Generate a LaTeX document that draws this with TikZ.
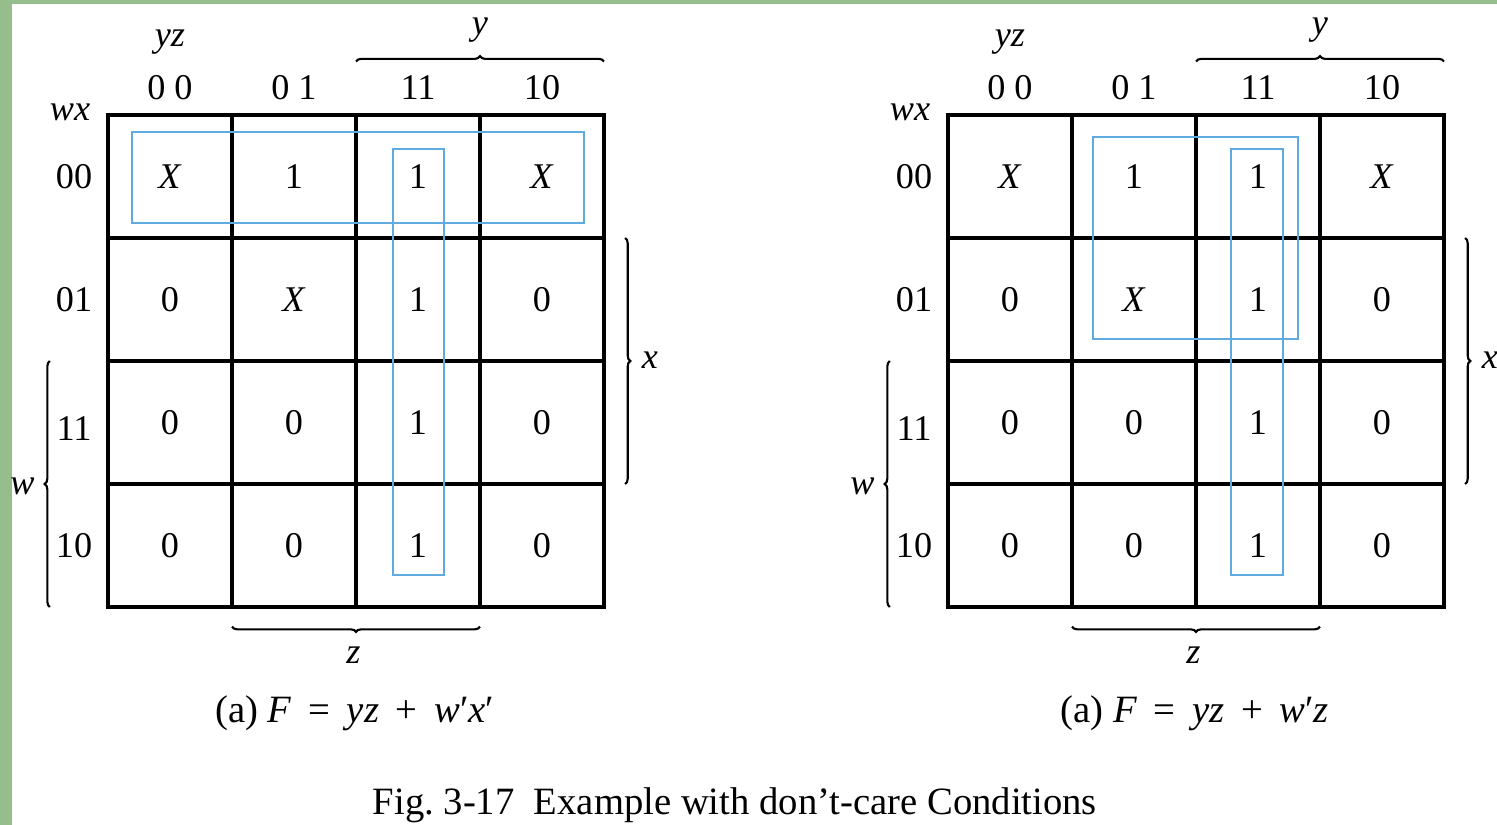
\documentclass[tikz,border=0pt]{standalone}
\usepackage{fontspec}
\setmainfont{Liberation Serif}
\usetikzlibrary{decorations.pathreplacing}

\definecolor{loopblue}{RGB}{95,170,222}
\definecolor{bggreen}{RGB}{150,190,140}

\newcommand\wsp{\hspace{2pt}}
\tikzset{
  kmap/.style={line width=0.9pt},
  kbrace/.style={decorate, decoration={brace, amplitude=1.5pt}, line width=0.6pt},
  kloop/.style={draw=loopblue, line width=0.55pt},
  kcap/.style={font=\fontsize{11}{13}\selectfont},
}

\begin{document}
\begin{tikzpicture}[x={(0cm,-1.23cm)},y={(1.24cm,0cm)},font=\fontsize{10.3}{12}\selectfont]
\useasboundingbox (-1.70cm,1.765cm) rectangle (13.27cm,-6.485cm);
\fill[bggreen] (-1.70cm,1.765cm) rectangle (13.27cm,-6.485cm);
\fill[white] (-1.58cm,1.725cm) rectangle (13.27cm,-6.485cm);

% both maps hold the same entries
\foreach \m/\sh in {L/0cm,R/8.4cm}{
\begin{scope}[xshift=\sh]
  \foreach \vals [count=\r from 0] in {{\textit{X},1,1,\textit{X}},{0,\textit{X},1,0},{0,0,1,0},{0,0,1,0}}
    \foreach \v [count=\c from 0] in \vals
      \node (\m-\r\c) at (\r,\c) {\v};
  \draw[kmap] (-0.5,-0.5) rectangle (3.5,3.5);
  \foreach \k in {1,2,3}{
    \draw[kmap] (\k-0.5,-0.5) -- (\k-0.5,3.5);
    \draw[kmap] (-0.5,\k-0.5) -- (3.5,\k-0.5);
  }
  \node (\m-yz) at (-1.09,0) {\textit{yz}};
  \node (\m-wx) at (-0.524,-0.806) {\textit{wx}};
  \foreach \lab [count=\c from 0] in {0\hspace{0.25em}0,0\hspace{0.25em}1,11,10}
    \node (\m-c\c) at (-0.72,\c) {\lab};
  \foreach \lab/\r [count=\k from 0] in {00/0,01/1,11/2.05,10/3}
    \node (\m-r\k) at (\r,-0.774) {\lab};

  % variable braces
  \draw[kbrace] (-0.935,1.5) -- (-0.935,3.5);
  \node (\m-y) at (-1.19,2.5) {\textit{y}};
  \draw[kbrace] (0.5,3.67) -- (2.5,3.67);
  \node (\m-x) at (1.49,3.87) {\textit{x}};
  \draw[kbrace] (3.5,-0.968) -- (1.5,-0.968);
  \node (\m-w) at (2.52,-1.19) {\textit{w}};
  \draw[kbrace] (3.66,2.5) -- (3.66,0.5);
  \node (\m-z) at (3.89,1.48) {\textit{z}};
\end{scope}
}

% loops
\draw[kloop] (-0.362,-0.306) rectangle (0.378,3.339);
\draw[kloop] (-0.224,1.798) rectangle (3.24,2.21);
\node[kcap] (capL) at (4.36,1.49) {(a) \textit{F} \wsp= \wsp\textit{yz} \wsp+ \wsp\textit{w}′\textit{x}′};

\begin{scope}[xshift=8.4cm]
\draw[kloop] (-0.321,0.669) rectangle (1.321,2.323);
\draw[kloop] (-0.224,1.782) rectangle (3.24,2.202);
\node[kcap] (capR) at (4.36,1.49) {(a) \textit{F} \wsp= \wsp\textit{yz} \wsp+ \wsp\textit{w}′\textit{z}};
\end{scope}

\node[kcap] (fig) at (5.11,4.556) {Fig.~3-17\enspace Example with don’t-care Conditions};
\end{tikzpicture}
\end{document}
